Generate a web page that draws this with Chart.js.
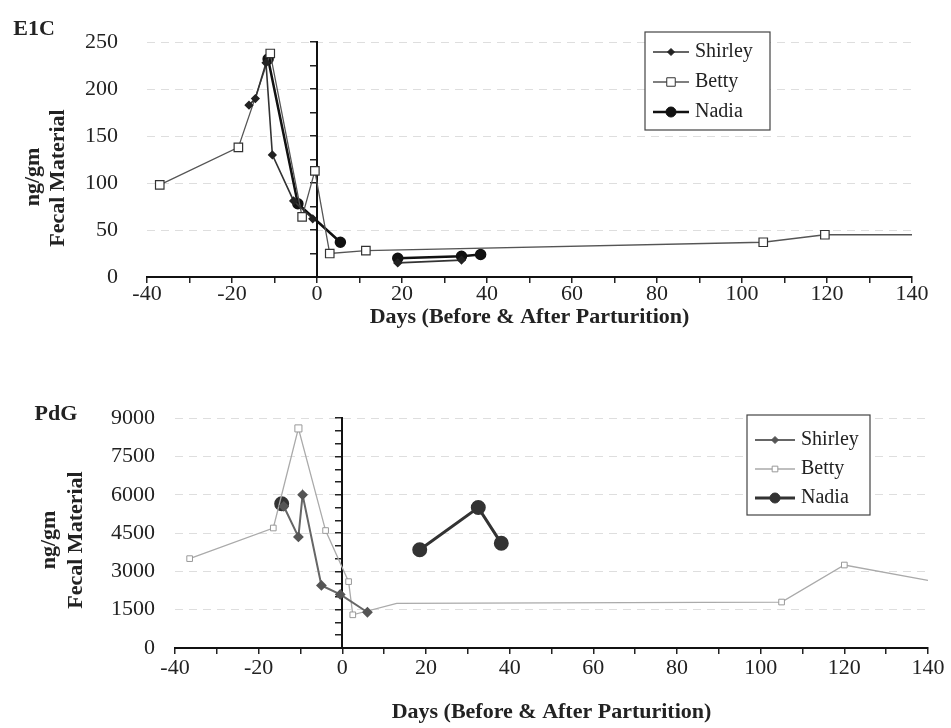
<!DOCTYPE html>
<html>
<head>
<meta charset="utf-8">
<script src="https://cdn.jsdelivr.net/npm/chart.js"></script>
<style>
    body { margin: 0; background: #fff; }
    #page { position: relative; width: 951px; height: 728px; overflow: hidden; }
    .panel { position: absolute; left: 0; width: 951px; }
    .lbl {
        position: absolute;
        font: bold 22px "Liberation Serif", "DejaVu Serif", serif;
        color: #222;
        white-space: nowrap;
        transform: translate(-50%, -50%);
    }
    .vert { transform: translate(-50%, -50%) rotate(-90deg); }
</style>
</head>
<body>
<div id="page">
    <div class="panel" style="top:0;height:332px"><canvas id="e1c_chart"></canvas></div>
    <div class="panel" style="top:385px;height:343px"><canvas id="pdg_chart"></canvas></div>

    <div class="lbl" style="left:34px;top:28px">E1C</div>
    <div class="lbl vert" style="left:32px;top:177px">ng/gm</div>
    <div class="lbl vert" style="left:57px;top:178px">Fecal Material</div>

    <div class="lbl" style="left:56px;top:413px">PdG</div>
    <div class="lbl vert" style="left:48px;top:540px">ng/gm</div>
    <div class="lbl vert" style="left:75px;top:540px">Fecal Material</div>
</div>

<script>
/* global Chart */

const days_title = "Days (Before & After Parturition)";
const day_ticks = [-40, -20, 0, 20, 40, 60, 80, 100, 120, 140];

// E1C (top panel)
const e1c_ticks = [0, 50, 100, 150, 200, 250];
const e1c_shirley_days = [-16, -14.5, -12, -10.5, -5.5, -1, 12, 19, 34];
const e1c_shirley_vals = [183, 190, 228, 130, 81, 62, null, 15, 18];
const e1c_betty_days = [-37, -18.5, -11, -3.5, -0.5, 3, 11.5, 105, 119.5, 140];
const e1c_betty_vals = [98, 138, 238, 64, 113, 25, 28, 37, 45, 45];
const e1c_nadia_days = [-11.5, -4.5, 5.5, 12, 19, 34, 38.5];
const e1c_nadia_vals = [232, 78, 37, null, 20, 22, 24];

// PdG (bottom panel)
const pdg_ticks = [0, 1500, 3000, 4500, 6000, 7500, 9000];
const pdg_shirley_days = [-14, -10.5, -9.5, -5, -0.5, 6];
const pdg_shirley_vals = [5550, 4350, 6000, 2450, 2100, 1400];
const pdg_betty_days = [-36.5, -16.5, -10.5, -4, 1.5, 2.5, 13, 105, 120, 140];
const pdg_betty_vals = [3500, 4700, 8600, 4600, 2600, 1300, 1750, 1800, 3250, 2650];
const pdg_nadia_days = [-14.5, 5, 18.5, 32.5, 38];
const pdg_nadia_vals = [5650, null, 3850, 5500, 4100];

const serif = '"Liberation Serif", "DejaVu Serif", serif';
Chart.defaults.font.family = serif;
Chart.defaults.color = "#222";

function points(days, vals) {
    return days.map((d, i) => ({ x: d, y: vals[i] }));
}

// legend drawn in a box inside the plot, like the scanned figure
const boxed_legend = {
    id: "boxedLegend",
    afterDraw(chart, args, opts) {
        const ctx = chart.ctx;
        ctx.save();
        ctx.fillStyle = "#fff";
        ctx.fillRect(opts.left, opts.top, opts.width, opts.height);
        ctx.strokeStyle = "#444";
        ctx.lineWidth = 1.2;
        ctx.strokeRect(opts.left, opts.top, opts.width, opts.height);
        ctx.font = "20px " + serif;
        ctx.textBaseline = "middle";
        chart.data.datasets.forEach((ds, i) => {
            const y = opts.top + opts.first + i * opts.step;
            const x0 = opts.left + 8;
            ctx.strokeStyle = ds.borderColor;
            ctx.lineWidth = ds.borderWidth;
            ctx.beginPath();
            ctx.moveTo(x0, y);
            ctx.lineTo(x0 + opts.sample, y);
            ctx.stroke();
            ctx.fillStyle = ds.pointBackgroundColor;
            ctx.strokeStyle = ds.pointBorderColor;
            ctx.lineWidth = 1;
            Chart.helpers.drawPoint(ctx, {
                pointStyle: ds.pointStyle,
                radius: ds.legendRadius,
                borderWidth: 1,
                rotation: 0,
            }, x0 + opts.sample / 2, y);
            ctx.fillStyle = "#222";
            ctx.fillText(ds.label, x0 + opts.sample + 6, y);
        });
        ctx.restore();
    },
};

function makeChart(canvas, p) {
    const step = p.ticks[1] - p.ticks[0];
    return new Chart(canvas, {
        type: "line",
        data: { datasets: p.datasets },
        plugins: [boxed_legend],
        options: {
            responsive: true,
            maintainAspectRatio: false,
            animation: false,
            layout: { padding: { top: p.padTop, right: p.padRight, left: 0, bottom: 0 } },
            plugins: {
                legend: { display: false },
                tooltip: { enabled: false },
                boxedLegend: p.legend,
            },
            scales: {
                x: {
                    type: "linear",
                    min: day_ticks[0],
                    max: day_ticks[day_ticks.length - 1],
                    afterFit: (s) => { s.height = p.xHeight; },
                    ticks: {
                        stepSize: 10,
                        autoSkip: false,
                        maxRotation: 0,
                        padding: p.xTickPad,
                        font: { size: 22, lineHeight: 1 },
                        callback: (v) => (day_ticks.includes(v) ? String(v) : ""),
                    },
                    grid: { drawOnChartArea: false, drawTicks: true, tickLength: 6, color: "#222", lineWidth: 1.5 },
                    border: { display: true, color: "#111", width: 2 },
                    title: {
                        display: true,
                        text: days_title,
                        font: { size: 22, weight: "bold", lineHeight: 1 },
                        padding: { top: 0, bottom: p.titlePad },
                    },
                },
                y: {
                    min: p.ticks[0],
                    max: p.ticks[p.ticks.length - 1],
                    afterFit: (s) => { s.width = p.yWidth; },
                    ticks: {
                        stepSize: step,
                        padding: p.yTickPad,
                        font: { size: 22 },
                        callback: (v) => String(v),
                    },
                    grid: { color: "rgba(0,0,0,0.13)", drawTicks: false },
                    border: { display: false, dash: [8, 6] },
                },
                y0: {
                    position: { x: 0 },
                    min: p.ticks[0],
                    max: p.ticks[p.ticks.length - 1],
                    ticks: { display: false, stepSize: p.minorStep },
                    grid: { drawOnChartArea: false, drawTicks: true, tickLength: 6, color: "#222", lineWidth: 1.5 },
                    border: { display: true, color: "#111", width: 2 },
                },
            },
        },
    });
}

makeChart(document.getElementById("e1c_chart"), {
    ticks: e1c_ticks,
    minorStep: 25,
    padTop: 25,
    padRight: 39,
    yWidth: 147,
    yTickPad: 29,
    xHeight: 55,
    xTickPad: 0,
    titlePad: 4,
    legend: { left: 645, top: 32, width: 125, height: 98, first: 20, step: 30, sample: 36 },
    datasets: [
        {
            label: "Shirley",
            data: points(e1c_shirley_days, e1c_shirley_vals),
            borderColor: "#333",
            borderWidth: 1.6,
            pointStyle: "rectRot",
            pointRadius: 3.5,
            legendRadius: 3.5,
            pointBackgroundColor: "#222",
            pointBorderColor: "#222",
            spanGaps: false,
        },
        {
            label: "Betty",
            data: points(e1c_betty_days, e1c_betty_vals),
            borderColor: "#555",
            borderWidth: 1.3,
            pointStyle: "rect",
            pointRadius: [6, 6, 6, 6, 6, 6, 6, 6, 6, 0],
            legendRadius: 6,
            pointBackgroundColor: "#fff",
            pointBorderColor: "#333",
            pointBorderWidth: 1.2,
        },
        {
            label: "Nadia",
            data: points(e1c_nadia_days, e1c_nadia_vals),
            borderColor: "#111",
            borderWidth: 2.5,
            pointStyle: "circle",
            pointRadius: 4.5,
            legendRadius: 5,
            pointBackgroundColor: "#111",
            pointBorderColor: "#111",
            spanGaps: false,
        },
    ],
});

makeChart(document.getElementById("pdg_chart"), {
    ticks: pdg_ticks,
    minorStep: 500,
    padTop: 26,
    padRight: 23,
    yWidth: 175,
    yTickPad: 20,
    xHeight: 80,
    xTickPad: 3,
    titlePad: 5,
    legend: { left: 747, top: 30, width: 123, height: 100, first: 25, step: 29, sample: 40 },
    datasets: [
        {
            label: "Shirley",
            data: points(pdg_shirley_days, pdg_shirley_vals),
            borderColor: "#666",
            borderWidth: 2,
            pointStyle: "rectRot",
            pointRadius: 4,
            legendRadius: 3.5,
            pointBackgroundColor: "#555",
            pointBorderColor: "#555",
        },
        {
            label: "Betty",
            data: points(pdg_betty_days, pdg_betty_vals),
            borderColor: "#aaa",
            borderWidth: 1.3,
            pointStyle: "rect",
            pointRadius: [4, 4, 5, 4, 4, 4, 0, 4, 4, 0],
            legendRadius: 4,
            pointBackgroundColor: "#fff",
            pointBorderColor: "#999",
            pointBorderWidth: 1,
        },
        {
            label: "Nadia",
            data: points(pdg_nadia_days, pdg_nadia_vals),
            borderColor: "#333",
            borderWidth: 3,
            pointStyle: "circle",
            pointRadius: 6,
            legendRadius: 5,
            pointBackgroundColor: "#333",
            pointBorderColor: "#333",
            spanGaps: false,
        },
    ],
});
</script>
</body>
</html>
